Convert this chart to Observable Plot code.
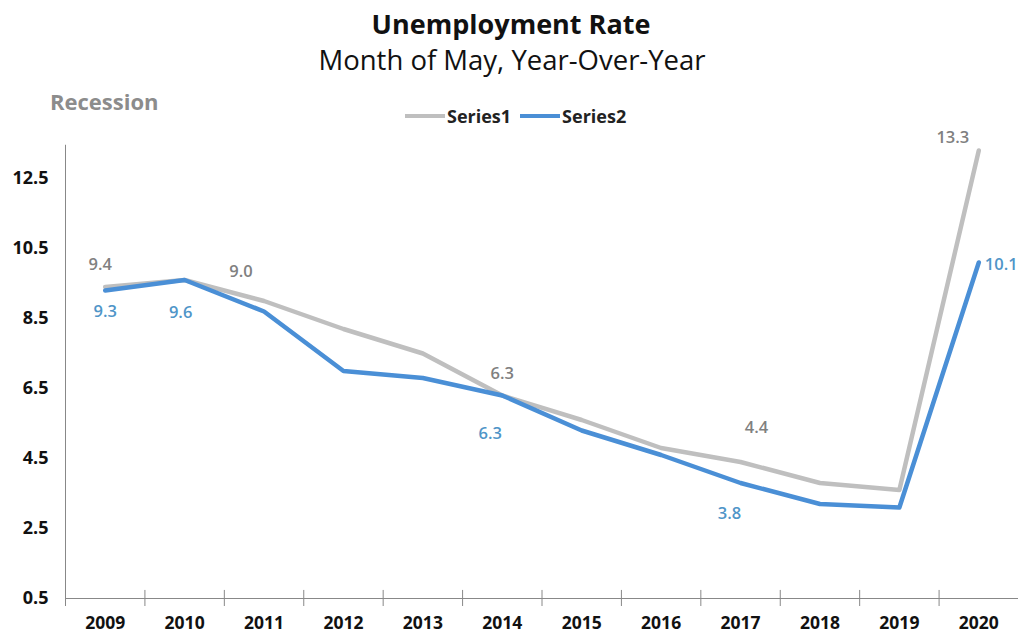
<!DOCTYPE html>
<html>
<head>
<meta charset="utf-8">
<script src="https://cdn.jsdelivr.net/npm/d3@7"></script>
<script src="https://cdn.jsdelivr.net/npm/@observablehq/plot@0.6"></script>
<style>
  body { margin: 0; background: #fff; font-family: "Open Sans", Lato, sans-serif; }
  #wrap { position: relative; width: 1018px; height: 635px; overflow: hidden; }
  #wrap svg { position: absolute; left: 0; top: 0; }
  .abs { position: absolute; white-space: nowrap; line-height: 1; }
  #title { left: 0; width: 1022px; top: 10px; text-align: center; font-weight: bold; font-size: 27px; color: #111; }
  #subtitle { left: 0; width: 1024px; top: 46px; text-align: center; font-size: 27.5px; color: #111; }
  #recession { left: 50px; top: 90px; font-weight: bold; font-size: 22px; color: #8c8c8c; }
  #legend { left: 405px; top: 107px; font-weight: bold; font-size: 18px; color: #222; display: flex; align-items: center; }
  .sw { display: inline-block; width: 40px; height: 4px; margin-right: 2px; }
</style>
</head>
<body>
<div id="wrap">
  <div id="chart"></div>
  <div id="title" class="abs">Unemployment Rate</div>
  <div id="subtitle" class="abs">Month of May, Year-Over-Year</div>
  <div id="recession" class="abs">Recession</div>
  <div id="legend" class="abs"></div>
</div>
<script>
const years = [2009, 2010, 2011, 2012, 2013, 2014, 2015, 2016, 2017, 2018, 2019, 2020];
const series1 = [9.4, 9.6, 9.0, 8.2, 7.5, 6.3, 5.6, 4.8, 4.4, 3.8, 3.6, 13.3];
const series2 = [9.3, 9.6, 8.7, 7.0, 6.8, 6.3, 5.3, 4.6, 3.8, 3.2, 3.1, 10.1];
const seriesNames = ["Series1", "Series2"];
const seriesColors = ["#bfbfbf", "#4a8fd6"];
const labelColors = ["#808080", "#4f95c8"];
const yTicks = [0.5, 2.5, 4.5, 6.5, 8.5, 10.5, 12.5];
const labeledYears1 = [2009, 2011, 2014, 2017, 2020];
const labeledYears2 = [2009, 2010, 2014, 2017, 2020];

const rows = [];
years.forEach((yr, i) => {
  rows.push({year: yr, value: series1[i], series: seriesNames[0]});
  rows.push({year: yr, value: series2[i], series: seriesNames[1]});
});

// label offsets (pixels) and anchors, chosen to mimic the reference placement
const off1 = {2009: [-5, -22, "middle"], 2011: [-23, -29, "middle"], 2014: [0, -22, "middle"], 2017: [16, -34, "middle"], 2020: [-26, -13, "middle"]};
const off2 = {2009: [0, 21, "middle"], 2010: [-4, 33, "middle"], 2014: [-12, 38, "middle"], 2017: [-11, 31, "middle"], 2020: [6, 2, "start"]};

const labelMarks = [];
[[labeledYears1, off1, 0], [labeledYears2, off2, 1]].forEach(([ys, off, si]) => {
  ys.forEach(yr => {
    const d = rows.find(r => r.year === yr && r.series === seriesNames[si]);
    labelMarks.push(Plot.text([d], {x: "year", y: "value", text: r => r.value.toFixed(1),
      dx: off[yr][0], dy: off[yr][1], textAnchor: off[yr][2],
      fill: labelColors[si], fontSize: 16.5, fontWeight: 600}));
  });
});

const halfYears = d3.range(years[0] - 0.5, years[years.length - 1] + 0.51, 1);

const chart = Plot.plot({
  width: 1018,
  height: 635,
  marginLeft: 65,
  marginRight: 0,
  marginTop: 143,
  marginBottom: 37,
  style: {fontFamily: "'Open Sans', Lato, sans-serif", background: "transparent", overflow: "visible"},
  x: {domain: [years[0] - 0.5, years[years.length - 1] + 0.5]},
  y: {domain: [0.5, 13.5]},
  color: {domain: seriesNames, range: seriesColors},
  marks: [
    Plot.axisY({ticks: yTicks, tickFormat: d => d.toFixed(1), tickSize: 6, tickPadding: 11,
      fontSize: 18, fontWeight: "bold", fill: "#111", stroke: null, color: "#888", label: null}),
    Plot.axisX({ticks: years, tickFormat: d => String(d), tickSize: 0, tickPadding: 18,
      fontSize: 17.5, fontWeight: "bold", fill: "#111", label: null}),
    Plot.axisX({ticks: halfYears, tickFormat: () => "", tickSize: 8, stroke: "#888", label: null}),
    Plot.ruleX(halfYears, {x: d => d, y1: 0.5, y2: 0.73, stroke: "#888"}),
    Plot.ruleY([0.5], {stroke: "#888"}),
    Plot.ruleX([years[0] - 0.5], {y1: 0.5, y2: 13.45, stroke: "#888"}),
    Plot.line(rows, {x: "year", y: "value", z: "series", stroke: "series", strokeWidth: 4.5, strokeLinejoin: "round"}),
    ...labelMarks
  ]
});
document.getElementById("chart").appendChild(chart);

const legend = document.getElementById("legend");
seriesNames.forEach((n, i) => {
  const item = document.createElement("span");
  item.style.display = "inline-flex";
  item.style.alignItems = "center";
  item.style.marginRight = i === 0 ? "9px" : "0";
  item.innerHTML = `<span class="sw" style="background:${seriesColors[i]}"></span>${n}`;
  legend.appendChild(item);
});
</script>
</body>
</html>
